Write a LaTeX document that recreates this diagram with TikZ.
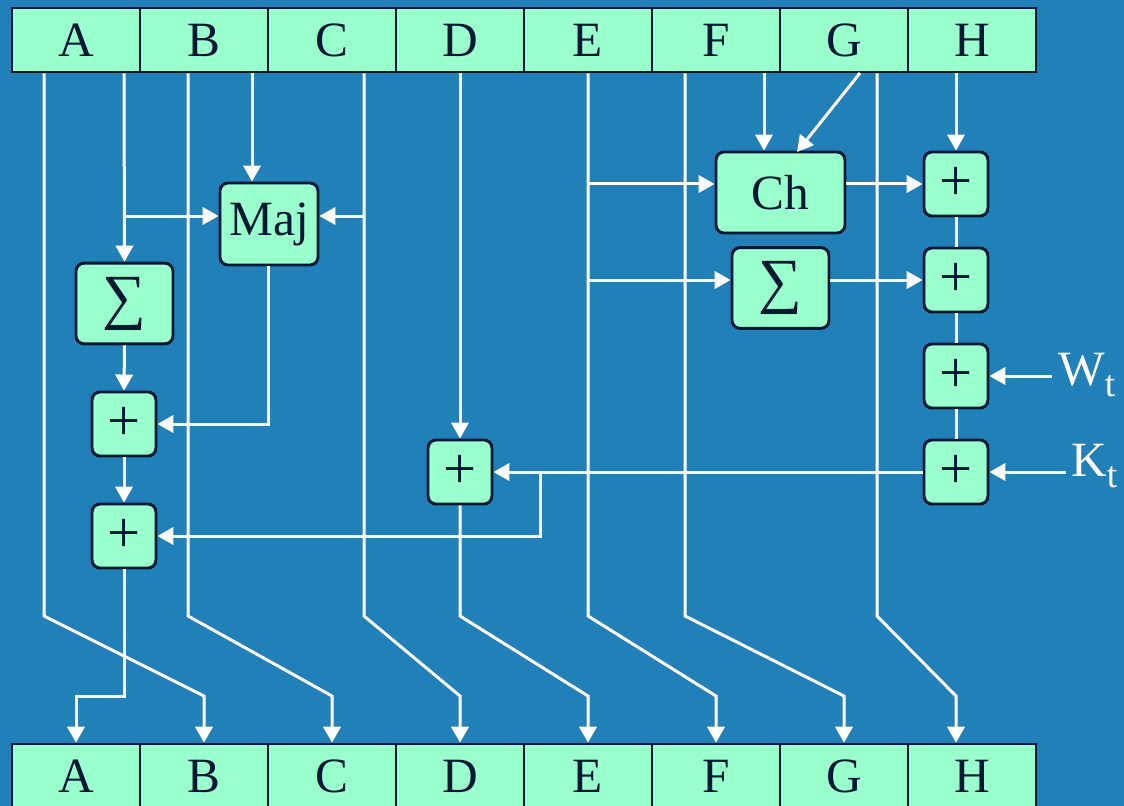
\documentclass[tikz,border=0pt]{standalone}
\usepackage{fontspec}
\setmainfont{Liberation Serif}
\usetikzlibrary{arrows.meta}
\definecolor{bgblue}{RGB}{34,128,184}
\definecolor{mint}{RGB}{153,255,204}
\definecolor{ink}{RGB}{0,24,51}
\begin{document}
\begin{tikzpicture}[x=0.75pt,y=-0.75pt,
  big/.style={font=\fontsize{37}{40}\selectfont},
  reg/.style={big,draw=ink,fill=mint,line width=2pt,minimum width=96pt,minimum height=48pt,inner sep=0pt,text=ink},
  opbox/.style={big,draw=ink,fill=mint,line width=2.2pt,rounded corners=6pt,inner sep=0pt,text=ink},
  plusbox/.style={opbox,minimum width=48pt,minimum height=48pt,font=\fontsize{44}{46}\selectfont},
  sigbox/.style={opbox,minimum width=72.75pt,minimum height=60.5pt,font=\fontsize{46}{50}\selectfont},
  lbl/.style={big,text=white,inner sep=0pt,anchor=west},
  wire/.style={draw=white,line width=2.25pt},
  arr/.style={wire,-{Triangle[length=12pt,width=13pt]}}]
% background
\clip (0,0) rectangle (1124,806);
\fill[bgblue] (0,0) rectangle (1124,806);

% registers
\foreach \r [count=\i from 0] in {A,B,C,D,E,F,G,H}{
  \node[reg] (t\r) at (76+128*\i,40) {\r};
  \node[reg] (b\r) at (76+128*\i,776) {\r};
}

% function boxes
\node[opbox,minimum width=73.5pt,minimum height=61.5pt] (maj) at (269,224) {Maj};
\node[sigbox] (sig1) at (124.5,303.5) {∑};
\node[plusbox] (pl1) at (124,424) {+};
\node[plusbox] (pl2) at (124,536) {+};
\node[plusbox] (pld) at (460,472) {+};
\node[opbox,minimum width=96.75pt,minimum height=60.75pt] (ch) at (780.5,192.5) {Ch};
\node[sigbox] (sig2) at (780.5,288) {∑};
\node[plusbox] (ph1) at (956,184) {+};
\node[plusbox] (ph2) at (956,280) {+};
\node[plusbox] (ph3) at (956,376) {+};
\node[plusbox] (ph4) at (956,472) {+};
\node[lbl] (W) at (1058,375) {W\raisebox{-8pt}{\fontsize{28}{30}\selectfont t}};
\node[lbl] (K) at (1071,466) {K\raisebox{-8pt}{\fontsize{28}{30}\selectfont t}};

% pass-through shifts to the lower register
\draw[arr] (44,0 |- tA.south) -- (44,616) -- (204,696) -- (bB.north);
\draw[arr] (188,0 |- tB.south) -- (188,616) -- (332,696) -- (bC.north);
\draw[arr] (364,0 |- tC.south) -- (364,616) -- (460,696) -- (bD.north);
\draw[arr] (pld.south) -- (460,616) -- (588,696) -- (bE.north);
\draw[arr] (588,0 |- tE.south) -- (588,616) -- (716,696) -- (bF.north);
\draw[arr] (685,0 |- tF.south) -- (685,616) -- (844,696) -- (bG.north);
\draw[arr] (877,0 |- tG.south) -- (877,616) -- (956,696) -- (956,0 |- bH.north);

% left half: Maj and Sigma0
\draw[arr] (124,0 |- tA.south) -- (sig1.north);
\draw[arr] (124,216) -- (maj.west |- 0,216);
\draw[arr] (252,0 |- tB.south) -- (maj.north -| 252,0);
\draw[arr] (364,216) -- (maj.east |- 0,216);
\draw[arr] (sig1.south) -- (pl1.north);
\draw[arr] (maj.south -| 268,0) |- (pl1.east);
\draw[arr] (pl1.south) -- (pl2.north);
\draw[arr] (pl2.south) -- (124,696) -- (76,696) -- (bA.north);
\draw[arr] (460,0 |- tD.south) -- (pld.north);

% right half: Ch and Sigma1
\draw[arr] (588,0 |- ph1.west) -- (ch.west |- ph1.west);
\draw[arr] (588,0 |- ph2.west) -- (sig2.west |- ph2.west);
\draw[arr] (764,0 |- tF.south) -- (ch.north -| 764,0);
\draw[arr] (860,73) -- (797,152);
\draw[arr] (ch.east |- ph1.west) -- (ph1.west);
\draw[arr] (sig2.east |- ph2.west) -- (ph2.west);
\draw[arr] (956,0 |- tH.south) -- (ph1.north);
\draw[wire] (ph1.south) -- (ph2.north);
\draw[wire] (ph2.south) -- (ph3.north);
\draw[wire] (ph3.south) -- (ph4.north);
\draw[arr] (1052,376) -- (ph3.east);
\draw[arr] (1066,472) -- (ph4.east);

% T1 to d and e
\draw[arr] (ph4.west) -- (pld.east);
\draw[arr] (540,472) |- (pl2.east);
\end{tikzpicture}
\end{document}
